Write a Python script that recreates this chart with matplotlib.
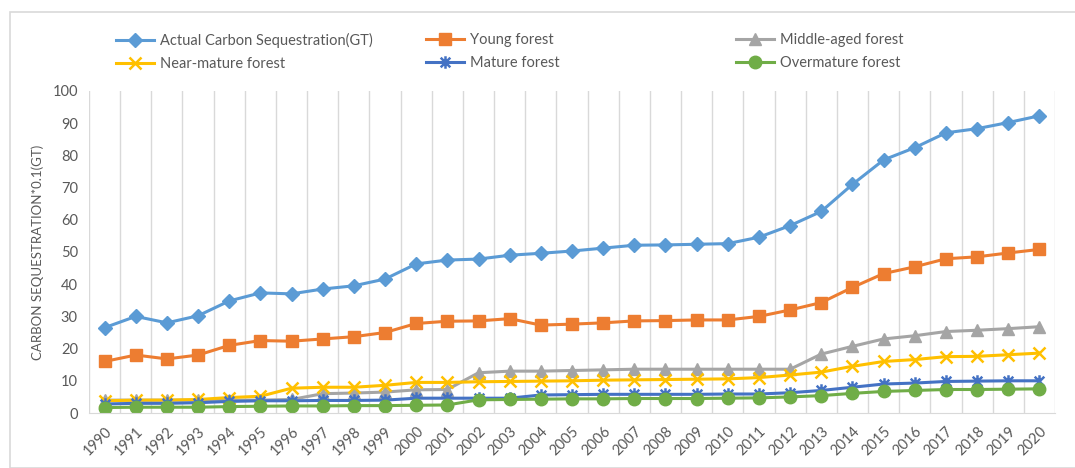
import numpy as np
import matplotlib.pyplot as plt
from matplotlib.patches import Rectangle
from matplotlib.path import Path

# carbon sequestration by forest age group
years = list(range(1990, 2021))

actual = [26.5, 30.0, 28.0, 30.2, 34.8, 37.3, 37.0, 38.5, 39.5, 41.6,
          46.3, 47.5, 47.8, 49.0, 49.6, 50.3, 51.2, 52.1, 52.2, 52.4,
          52.6, 54.6, 58.2, 62.6, 71.0, 78.6, 82.4, 87.0, 88.3, 90.2, 92.3]
young = [16.0, 18.0, 16.8, 18.0, 21.0, 22.5, 22.3, 23.0, 23.7, 25.0,
         27.8, 28.5, 28.6, 29.3, 27.3, 27.6, 28.0, 28.6, 28.7, 28.9,
         28.9, 30.0, 32.0, 34.3, 39.0, 43.3, 45.4, 47.9, 48.5, 49.7, 50.8]
middle = [4.0, 4.0, 4.0, 4.0, 4.0, 4.0, 4.2, 6.0, 6.2, 6.5,
          7.2, 7.3, 12.5, 13.0, 13.0, 13.2, 13.4, 13.6, 13.6, 13.6,
          13.6, 13.6, 13.6, 18.3, 20.7, 23.0, 24.0, 25.3, 25.7, 26.2, 26.8]
near_mature = [3.8, 4.0, 4.0, 4.2, 4.8, 5.2, 7.7, 8.0, 8.0, 8.6,
               9.5, 9.5, 9.7, 9.8, 9.9, 10.0, 10.2, 10.3, 10.4, 10.5,
               10.6, 11.0, 11.8, 12.7, 14.5, 16.0, 16.6, 17.5, 17.6, 18.1, 18.6]
mature = [2.8, 3.0, 3.0, 3.2, 3.6, 3.8, 3.8, 3.9, 3.9, 4.0,
          4.6, 4.6, 4.6, 4.6, 5.6, 5.7, 5.8, 5.8, 5.8, 5.8,
          5.9, 5.9, 6.3, 7.0, 8.0, 9.0, 9.3, 9.8, 9.9, 10.0, 10.0]
overmature = [1.7, 1.8, 1.8, 1.8, 2.0, 2.1, 2.2, 2.2, 2.3, 2.3,
              2.4, 2.5, 4.1, 4.2, 4.3, 4.4, 4.4, 4.5, 4.5, 4.5,
              4.6, 4.7, 5.0, 5.4, 6.1, 6.7, 7.0, 7.3, 7.3, 7.4, 7.5]

names = ['Actual Carbon Sequestration(GT)', 'Young forest', 'Middle-aged forest',
         'Near-mature forest', 'Mature forest', 'Overmature forest']
series = [actual, young, middle, near_mature, mature, overmature]
colors = ['#5B9BD5', '#ED7D31', '#A5A5A5', '#FFC000', '#4472C4', '#70AD47']

# excel style star: an x with a vertical bar through it
star = Path([(-1, -1), (1, 1), (-1, 1), (1, -1), (0, -1.3), (0, 1.3)],
            [Path.MOVETO, Path.LINETO, Path.MOVETO, Path.LINETO, Path.MOVETO, Path.LINETO])
markers = ['D', 's', '^', 'x', star, 'o']
msizes = [7, 9, 8, 9, 9, 9]

txt = '#595959'
plt.rcParams['font.family'] = ['Lato', 'DejaVu Sans']

fig = plt.figure(figsize=(10.75, 4.68), dpi=100)
ax = fig.add_axes([0.0828, 0.1175, 0.8986, 0.6881])

# light frame around the whole chart
fig.patches.append(Rectangle((10 / 1075, 0), 1.0, 1 - 12 / 468, transform=fig.transFigure,
                             fill=False, edgecolor='#D9D9D9', lw=1.2))

x = np.arange(len(years))
handles = []
for i, (vals, name, c) in enumerate(zip(series, names, colors)):
    mew = 1.8 if i in (3, 4) else 1
    h, = ax.plot(x, vals, color=c, lw=2.2, marker=markers[i], markersize=msizes[i],
                 markeredgewidth=mew, markeredgecolor=c, markerfacecolor=c, label=name)
    handles.append(h)

ax.set_xlim(-0.5, len(years) - 0.5)
ax.set_ylim(0, 100)
ax.set_yticks(np.arange(0, 101, 10))
ax.set_xticks(x)
ax.set_xticklabels([str(y) for y in years], rotation=45, ha='right',
                   rotation_mode='anchor', color=txt, fontsize=10.5)
ax.set_xticks(np.arange(-0.5, len(years)), minor=True)
ax.grid(True, which='minor', axis='x', color='#D9D9D9', lw=1)
ax.tick_params(axis='both', which='both', length=0)
ax.tick_params(axis='y', labelcolor=txt, labelsize=10.5, pad=8)
ax.tick_params(axis='x', pad=8)
for s in ['top', 'right', 'left']:
    ax.spines[s].set_visible(False)
ax.spines['bottom'].set_color('#D9D9D9')
ax.set_axisbelow(True)

ax.set_ylabel('CARBON SEQUESTRATION*0.1(GT)', color=txt, fontsize=9.5, labelpad=6)

# three legend columns of equal width, filled row by row like the original
col_x = [116, 426, 736]
for k in range(3):
    leg = fig.legend([handles[k], handles[k + 3]], [names[k], names[k + 3]],
                     loc='upper left', bbox_to_anchor=(col_x[k] / 1075, 1 - 33 / 468),
                     frameon=False, fontsize=10.5, labelcolor=txt, handlelength=2.6,
                     handletextpad=0.4, labelspacing=0.6, borderpad=0, borderaxespad=0)

plt.savefig('out.png', dpi=100)
